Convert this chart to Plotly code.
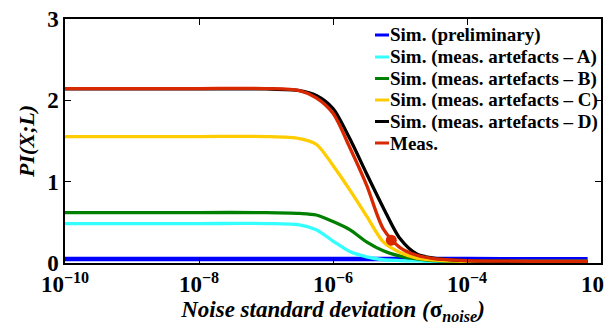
import plotly.graph_objects as go

# ---- data ----
log_sigma = [-10, -9, -8, -7, -6.5, -6.25, -6, -5.75, -5.5, -5.25, -5, -4.75, -4.5, -4, -3, -2.2]
sim_prelim = [0.05, 0.05, 0.05, 0.05, 0.05, 0.05, 0.05, 0.05, 0.05, 0.05, 0.05, 0.05, 0.05, 0.05, 0.045, 0.045]
sim_a = [0.485, 0.485, 0.485, 0.485, 0.47, 0.41, 0.27, 0.14, 0.075, 0.04, 0.03, 0.025, 0.02, 0.02, 0.02, 0.02]
sim_b = [0.62, 0.62, 0.62, 0.62, 0.61, 0.59, 0.51, 0.41, 0.26, 0.15, 0.085, 0.05, 0.03, 0.02, 0.02, 0.02]
sim_c = [1.555, 1.555, 1.555, 1.555, 1.53, 1.46, 1.20, 0.90, 0.58, 0.26, 0.13, 0.06, 0.035, 0.02, 0.02, 0.02]
sim_d = [2.14, 2.14, 2.14, 2.14, 2.12, 2.06, 1.90, 1.53, 1.10, 0.68, 0.30, 0.11, 0.06, 0.03, 0.02, 0.02]
meas = [2.145, 2.145, 2.145, 2.145, 2.12, 2.03, 1.84, 1.42, 0.96, 0.42, 0.19, 0.095, 0.055, 0.03, 0.02, 0.02]
meas_point_log_sigma = [-5.13]
meas_point_value = [0.28]

names = ["Sim. (preliminary)", "Sim. (meas. artefacts – A)", "Sim. (meas. artefacts – B)",
         "Sim. (meas. artefacts – C)", "Sim. (meas. artefacts – D)", "Meas."]
series = [sim_prelim, sim_a, sim_b, sim_c, sim_d, meas]
colors = ["#0000FF", "#33FFFF", "#008000", "#FFCC00", "#000000", "#D82800"]
widths = [4.5, 3.3, 3.3, 3.3, 3.3, 3.3]

x_tick_exp = [-10, -8, -6, -4, -2]
y_ticks = [0, 1, 2, 3]

sigma = [10 ** e for e in log_sigma]

FONT = "Liberation Serif"

fig = go.Figure()
for name, ys, c, w in zip(names, series, colors, widths):
    fig.add_trace(go.Scatter(x=sigma, y=ys, mode="lines", name=name,
                             line=dict(color=c, width=w, shape="spline", smoothing=0.8),
                             showlegend=False))
fig.add_trace(go.Scatter(x=[10 ** e for e in meas_point_log_sigma], y=meas_point_value,
                         mode="markers", marker=dict(color="#D82800", size=11),
                         showlegend=False))

# plot area in pixels
L, R, T, B = 57, 593, 11, 255
W, H = 613, 329


def px(x):
    return (x - L) / (R - L)


def py(y):
    return (B - y) / (B - T)


# manual legend (tight MATLAB-style spacing)
row_y = [27, 49, 70.5, 92, 113.5, 135]
shapes = []
annotations = []
for name, c, yy in zip(names, colors, row_y):
    shapes.append(dict(type="line", xref="paper", yref="paper",
                       x0=px(367), x1=px(381), y0=py(yy), y1=py(yy),
                       line=dict(color=c, width=3)))
    annotations.append(dict(xref="paper", yref="paper", x=px(379.5), y=py(yy),
                            xanchor="left", yanchor="middle", showarrow=False,
                            text="<b>" + name + "</b>",
                            font=dict(family=FONT, size=19, color="black")))

fig.update_layout(
    width=W, height=H,
    margin=dict(l=L, r=W - R, t=T, b=H - B, autoexpand=False),
    paper_bgcolor="white", plot_bgcolor="white",
    shapes=shapes, annotations=annotations,
    font=dict(family=FONT, color="black"),
)
fig.update_xaxes(
    type="log", range=[-10, -2], automargin=False, ticklabeloverflow="allow",
    tickvals=[10 ** e for e in x_tick_exp],
    ticktext=["<b>10<sup>−%d</sup></b>" % (-e) for e in x_tick_exp],
    tickfont=dict(family=FONT, size=23, color="black"),
    ticks="inside", ticklen=6, tickwidth=1, tickcolor="black",
    showline=True, linecolor="black", linewidth=1.5, mirror="ticks",
    showgrid=False, zeroline=False,
    title=dict(text="<b><i>Noise standard deviation (</i>σ<sub><i>noise</i></sub><i>)</i></b>",
               font=dict(family=FONT, size=23, color="black"), standoff=0),
)
fig.update_yaxes(
    range=[0, 3], tickvals=y_ticks, automargin=False, ticklabeloverflow="allow",
    ticktext=["<b>%d</b>" % v for v in y_ticks],
    tickfont=dict(family=FONT, size=23, color="black"),
    ticks="inside", ticklen=6, tickwidth=1, tickcolor="black",
    showline=True, linecolor="black", linewidth=1.5, mirror="ticks",
    showgrid=False, zeroline=False,
    title=dict(text="<b><i>PI(X;L)</i></b>",
               font=dict(family=FONT, size=22, color="black"), standoff=6),
)

fig.write_html("out.html")
